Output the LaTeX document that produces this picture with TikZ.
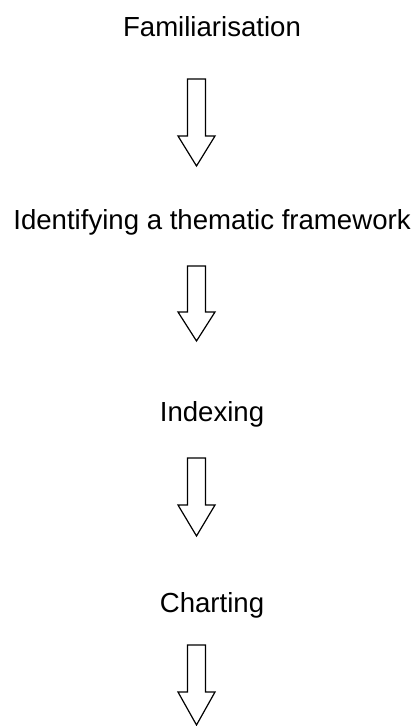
\documentclass[tikz,border=0pt]{standalone}
\usepackage{fontspec}
\setmainfont{Liberation Sans}
\usepackage{tikz}

\begin{document}
\begin{tikzpicture}[line cap=round,line join=miter,x=0.5pt,y=-0.5pt,
  stage/.style={anchor=base,inner sep=0pt,font=\fontsize{13.8}{16}\selectfont},
  blockarrow/.style={draw=black,line width=0.6pt,fill=white}]
\useasboundingbox (0,0) rectangle (418,726);
\node[stage] (fam) at (212,37) {Familiarisation};
\node[stage] (frame) at (212,230) {Identifying a thematic framework};
\node[stage] (index) at (212,421) {Indexing};
\node[stage] (chart) at (212,612) {Charting};
\draw[blockarrow] (187.5,79)-- (205.5,79)-- (205.5,136)-- (215,136)-- (196.5,166)-- (178,136)-- (187.5,136)-- cycle;
\draw[blockarrow] (187.5,266)-- (205.5,266)-- (205.5,312)-- (215,312)-- (196.5,341)-- (178,312)-- (187.5,312)-- cycle;
\draw[blockarrow] (187.5,458)-- (205.5,458)-- (205.5,505)-- (215,505)-- (196.5,536)-- (178,505)-- (187.5,505)-- cycle;
\draw[blockarrow] (187.5,645)-- (205.5,645)-- (205.5,692)-- (215,692)-- (196.5,725)-- (178,692)-- (187.5,692)-- cycle;
\end{tikzpicture}
\end{document}
